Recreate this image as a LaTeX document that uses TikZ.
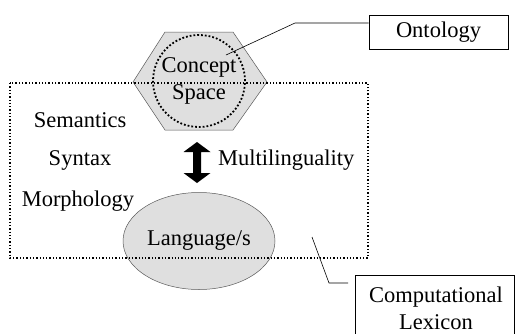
\documentclass[tikz,border=0pt]{standalone}
\usepackage{fontspec}
\setmainfont{Liberation Serif}
\usetikzlibrary{shapes.geometric,positioning}

\tikzset{
  txt/.style={font=\fontsize{22.5}{27}\selectfont, inner sep=0pt},
  namebox/.style={draw=black, line width=0.8pt, fill=white, align=center, txt},
  dotline/.style={dotted, line width=1.3pt},
  shadedshape/.style={fill=gray!25, draw=gray!70!black, line width=0.5pt},
}

\begin{document}
\begin{tikzpicture}[x=1pt,y=-1pt]
    \useasboundingbox (0,0) rectangle (520,333);

    % Hexagon of the concept space
    \filldraw[shadedshape] (133,82) -- (165,32) -- (233,32) -- (267,82) -- (233,130) -- (165,130) -- cycle;
    \node[circle, draw, dotline, line width=1.8pt, minimum size=92pt, align=center, txt] (concept) at (199,81) {Concept\\Space};

    % Language ellipse
    \node[ellipse, shadedshape, minimum width=152pt, minimum height=97pt, txt] (lang) at (199,241) {Language/s};

    % Dotted frame of the lexicon
    \draw[dotline] (10,83) rectangle (368,258);

    % Levels
    \node[txt] (sem) at (80,120) {Semantics};
    \node[txt] (syn) at (80,160) {Syntax};
    \node[txt] (mor) at (78,201) {Morphology};

    % Multilinguality arrow
    \fill[black] (197,142) -- (210.5,152) -- (201,152) -- (201,173) -- (210.5,173) -- (197,183)
                 -- (183.5,173) -- (193,173) -- (193,152) -- (183.5,152) -- cycle;
    \node[txt, anchor=west] (mling) at (218,160) {Multilinguality};

    % Callout boxes
    \node[namebox, minimum width=139pt, minimum height=34pt] (onto) at (438.5,32) {Ontology};
    \node[namebox, minimum width=159pt, minimum height=70pt] (lex) at (434.5,310) {};
    \node[txt, align=center] (lextext) at (436,308) {Computational\\Lexicon};

    % Leader lines
    \coordinate (ontoend) at (226,55);
    \coordinate (lexend) at (312,237);
    \draw[line width=0.6pt] (ontoend) -- (295,23) -- (onto.west |- 0,23);
    \draw[line width=0.6pt] (lexend) -- (329,283) -- (348,283);
\end{tikzpicture}
\end{document}
